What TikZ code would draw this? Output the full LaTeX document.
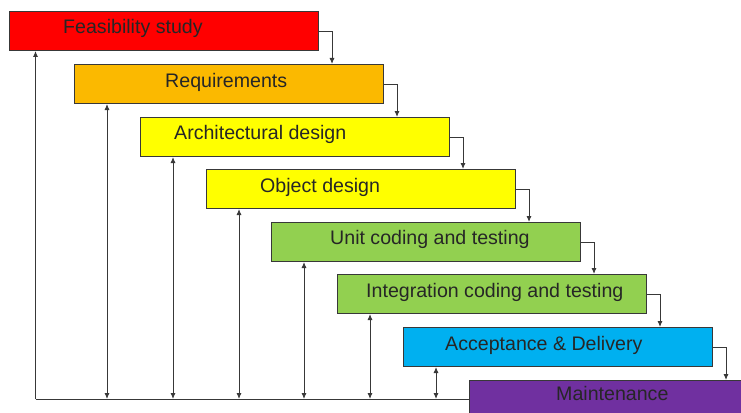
\documentclass[tikz,border=0pt]{standalone}
\usepackage{fontspec}
\setmainfont{Liberation Sans}
\usetikzlibrary{arrows.meta,calc}
\definecolor{cRed}{HTML}{FF0000}
\definecolor{cOrange}{HTML}{FBB900}
\definecolor{cYellow}{HTML}{FFFF00}
\definecolor{cGreen}{HTML}{92D050}
\definecolor{cBlue}{HTML}{00B0F0}
\definecolor{cPurple}{HTML}{7030A0}
\definecolor{cLine}{HTML}{383838}
\begin{document}
\begin{tikzpicture}[x=1pt,y=-1pt,
  phase/.style={draw=cLine,line width=1pt,minimum width=309pt,minimum height=39pt,inner sep=0pt,anchor=north west},
  lbl/.style={anchor=base west,inner sep=0pt,font=\fontsize{19.6}{22}\selectfont,text=black!85},
  arr/.style={draw=cLine,line width=0.9pt,-{Latex[length=6pt,width=5pt]}},
  barr/.style={draw=cLine,line width=0.9pt,{Latex[length=6pt,width=5pt]}-{Latex[length=6pt,width=5pt]}},
  ln/.style={draw=cLine,line width=0.9pt}]
\useasboundingbox (0,0) rectangle (741,412);
\clip (0,0) rectangle (741,412);
% boxes
\node[phase,fill=cRed]    (b1) at (9,11)   {};
\node[phase,fill=cOrange] (b2) at (74,64)  {};
\node[phase,fill=cYellow] (b3) at (140,117) {};
\node[phase,fill=cYellow] (b4) at (206,169) {};
\node[phase,fill=cGreen]  (b5) at (271,222) {};
\node[phase,fill=cGreen]  (b6) at (337,274) {};
\node[phase,fill=cBlue]   (b7) at (403,327) {};
\node[phase,fill=cPurple] (b8) at (469,380) {};
% labels
\node[lbl] (t1) at (63,34)   {Feasibility study};
\node[lbl] (t2) at (165,87)  {Requirements};
\node[lbl] (t3) at (174,139) {Architectural design};
\node[lbl] (t4) at (260,192) {Object design};
\node[lbl] (t5) at (330,244) {Unit coding and testing};
\node[lbl] (t6) at (366,297) {Integration coding and testing};
\node[lbl] (t7) at (445,350) {Acceptance \& Delivery};
\node[lbl] (t8) at (556,400) {Maintenance};
% forward connectors
\foreach \i/\j in {1/2,2/3,3/4,4/5,5/6,6/7,7/8}{
  \coordinate (c\i) at ($(b\i.east)+(13,0)$);
  \draw[arr] (b\i.east) -| (c\i |- b\j.north);
}
% feedback
\coordinate (base) at (0,399);
\coordinate (f1) at ($(b1.south west)+(26.5,0)$);
\foreach \i in {2,...,7}{
  \coordinate (f\i) at ($(b\i.south west)+(33,0)$);
  \draw[barr] (f\i) -- (f\i |- base);
}
\draw[arr] (f1 |- base) -- (f1);
\draw[ln] (f1 |- base) -- (b8.west |- base);
\end{tikzpicture}
\end{document}
